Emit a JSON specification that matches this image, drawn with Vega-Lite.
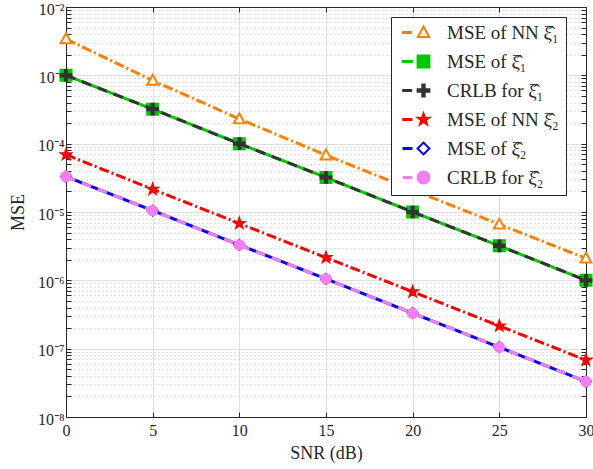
{
  "$schema": "https://vega.github.io/schema/vega-lite/v6.json",
  "width": 520,
  "height": 410,
  "autosize": {"type": "none"},
  "padding": {"left": 66, "top": 7, "right": 7, "bottom": 52},
  "background": "white",
  "config": {
    "view": {"stroke": null},
    "font": "Liberation Serif",
    "axis": {"labelFont": "Liberation Serif", "titleFont": "Liberation Serif", "labelColor": "#262626", "titleColor": "#262626", "titleFontWeight": "normal", "domainColor": "#262626", "tickColor": "#262626", "labelFlush": false, "labelOverlap": false}
  },
  "data": {
    "values": [
      {"snr": 0, "mse": 0.0034, "series": "MSE of NN ξ̂₁"},
      {"snr": 5, "mse": 0.00084, "series": "MSE of NN ξ̂₁"},
      {"snr": 10, "mse": 0.00023, "series": "MSE of NN ξ̂₁"},
      {"snr": 15, "mse": 0.000068, "series": "MSE of NN ξ̂₁"},
      {"snr": 20, "mse": 0.000021, "series": "MSE of NN ξ̂₁"},
      {"snr": 25, "mse": 0.0000066, "series": "MSE of NN ξ̂₁"},
      {"snr": 30, "mse": 0.0000021, "series": "MSE of NN ξ̂₁"},
      {"snr": 0, "mse": 0.001, "series": "MSE of ξ̂₁"},
      {"snr": 5, "mse": 0.00032, "series": "MSE of ξ̂₁"},
      {"snr": 10, "mse": 0.0001, "series": "MSE of ξ̂₁"},
      {"snr": 15, "mse": 0.000032, "series": "MSE of ξ̂₁"},
      {"snr": 20, "mse": 0.00001, "series": "MSE of ξ̂₁"},
      {"snr": 25, "mse": 0.0000032, "series": "MSE of ξ̂₁"},
      {"snr": 30, "mse": 0.000001, "series": "MSE of ξ̂₁"},
      {"snr": 0, "mse": 0.001, "series": "CRLB for ξ̂₁"},
      {"snr": 5, "mse": 0.00032, "series": "CRLB for ξ̂₁"},
      {"snr": 10, "mse": 0.0001, "series": "CRLB for ξ̂₁"},
      {"snr": 15, "mse": 0.000032, "series": "CRLB for ξ̂₁"},
      {"snr": 20, "mse": 0.00001, "series": "CRLB for ξ̂₁"},
      {"snr": 25, "mse": 0.0000032, "series": "CRLB for ξ̂₁"},
      {"snr": 30, "mse": 0.000001, "series": "CRLB for ξ̂₁"},
      {"snr": 0, "mse": 0.000069, "series": "MSE of NN ξ̂₂"},
      {"snr": 5, "mse": 0.0000215, "series": "MSE of NN ξ̂₂"},
      {"snr": 10, "mse": 0.0000068, "series": "MSE of NN ξ̂₂"},
      {"snr": 15, "mse": 0.00000215, "series": "MSE of NN ξ̂₂"},
      {"snr": 20, "mse": 0.00000068, "series": "MSE of NN ξ̂₂"},
      {"snr": 25, "mse": 0.000000215, "series": "MSE of NN ξ̂₂"},
      {"snr": 30, "mse": 0.000000068, "series": "MSE of NN ξ̂₂"},
      {"snr": 0, "mse": 0.000033, "series": "MSE of ξ̂₂"},
      {"snr": 5, "mse": 0.0000105, "series": "MSE of ξ̂₂"},
      {"snr": 10, "mse": 0.0000033, "series": "MSE of ξ̂₂"},
      {"snr": 15, "mse": 0.00000105, "series": "MSE of ξ̂₂"},
      {"snr": 20, "mse": 0.00000033, "series": "MSE of ξ̂₂"},
      {"snr": 25, "mse": 0.000000105, "series": "MSE of ξ̂₂"},
      {"snr": 30, "mse": 0.000000033, "series": "MSE of ξ̂₂"},
      {"snr": 0, "mse": 0.000033, "series": "CRLB for ξ̂₂"},
      {"snr": 5, "mse": 0.0000105, "series": "CRLB for ξ̂₂"},
      {"snr": 10, "mse": 0.0000033, "series": "CRLB for ξ̂₂"},
      {"snr": 15, "mse": 0.00000105, "series": "CRLB for ξ̂₂"},
      {"snr": 20, "mse": 0.00000033, "series": "CRLB for ξ̂₂"},
      {"snr": 25, "mse": 0.000000105, "series": "CRLB for ξ̂₂"},
      {"snr": 30, "mse": 0.000000033, "series": "CRLB for ξ̂₂"}
    ]
  },
  "layer": [
    {
      "mark": {"type": "line", "opacity": 0},
      "encoding": {
        "x": {"field": "snr", "type": "quantitative", "scale": {"domain": [0, 30], "nice": false},
          "axis": {"orient": "bottom", "values": [0, 5, 10, 15, 20, 25, 30], "title": "SNR (dB)", "labelFont": "Liberation Serif", "titleFont": "Liberation Serif", "titleFontSize": 18, "labelFontSize": 16, "labelPadding": 10, "titlePadding": 6, "tickSize": -5, "grid": true, "gridColor": "#dedede", "gridWidth": 1}},
        "y": {"field": "mse", "type": "quantitative", "scale": {"type": "log", "domain": [1e-8, 0.01], "nice": false},
          "axis": {"orient": "left", "title": "MSE", "labelFont": "Liberation Serif", "titleFont": "Liberation Serif", "titleFontSize": 18, "labelFontSize": 16, "titlePadding": 10, "labelPadding": 7, "labelOffset": 2, "tickSize": -5,
            "values": [1e-8, 2e-8, 3e-8, 4e-8, 5e-8, 6e-8, 7e-8, 8e-8, 9e-8, 1e-7, 2e-7, 3e-7, 4e-7, 5e-7, 6e-7, 7e-7, 8e-7, 9e-7, 1e-6, 2e-6, 3e-6, 4e-6, 5e-6, 6e-6, 7e-6, 8e-6, 9e-6, 1e-5, 2e-5, 3e-5, 4e-5, 5e-5, 6e-5, 7e-5, 8e-5, 9e-5, 1e-4, 2e-4, 3e-4, 4e-4, 5e-4, 6e-4, 7e-4, 8e-4, 9e-4, 1e-3, 2e-3, 3e-3, 4e-3, 5e-3, 6e-3, 7e-3, 8e-3, 9e-3, 1e-2],
            "labelExpr": "abs(log(datum.value)/LN10 - round(log(datum.value)/LN10)) < 0.001 ? ('10' + (round(log(datum.value)/LN10) < 0 ? '⁻' : '') + ['⁰','¹','²','³','⁴','⁵','⁶','⁷','⁸','⁹'][abs(round(log(datum.value)/LN10))]) : ''",
            "grid": true,
            "gridColor": {"condition": {"test": "abs(log(datum.value)/LN10 - round(log(datum.value)/LN10)) < 0.001", "value": "#dedede"}, "value": "#c4c4c4"},
            "gridDash": {"condition": {"test": "abs(log(datum.value)/LN10 - round(log(datum.value)/LN10)) < 0.001", "value": []}, "value": [1, 3]}
          }}
      }
    },
    {
      "mark": {"type": "line", "opacity": 0},
      "encoding": {
        "x": {"field": "snr", "type": "quantitative", "axis": {"orient": "top", "values": [0, 5, 10, 15, 20, 25, 30], "labels": false, "title": null, "tickSize": -5, "grid": false}},
        "y": {"field": "mse", "type": "quantitative", "axis": {"orient": "right", "labels": false, "title": null, "tickSize": -5, "grid": false,
          "values": [1e-8, 2e-8, 3e-8, 4e-8, 5e-8, 6e-8, 7e-8, 8e-8, 9e-8, 1e-7, 2e-7, 3e-7, 4e-7, 5e-7, 6e-7, 7e-7, 8e-7, 9e-7, 1e-6, 2e-6, 3e-6, 4e-6, 5e-6, 6e-6, 7e-6, 8e-6, 9e-6, 1e-5, 2e-5, 3e-5, 4e-5, 5e-5, 6e-5, 7e-5, 8e-5, 9e-5, 1e-4, 2e-4, 3e-4, 4e-4, 5e-4, 6e-4, 7e-4, 8e-4, 9e-4, 1e-3, 2e-3, 3e-3, 4e-3, 5e-3, 6e-3, 7e-3, 8e-3, 9e-3, 1e-2]}}
      }
    },
    {
      "transform": [{"filter": {"field": "series", "oneOf": ["MSE of NN ξ̂₁", "MSE of ξ̂₁", "MSE of NN ξ̂₂", "MSE of ξ̂₂"]}}],
      "mark": {"type": "line", "strokeWidth": 3},
      "encoding": {
        "x": {"field": "snr", "type": "quantitative", "axis": null},
        "y": {"field": "mse", "type": "quantitative", "axis": null},
        "stroke": {"field": "series", "type": "nominal",
          "scale": {"domain": ["MSE of NN ξ̂₁", "MSE of ξ̂₁", "CRLB for ξ̂₁", "MSE of NN ξ̂₂", "MSE of ξ̂₂", "CRLB for ξ̂₂"], "range": ["#FF8000", "#00C800", "#333333", "#FF0000", "#0000FF", "#F37EF3"]},
          "legend": {"orient": "none", "legendX": 325, "legendY": 10, "zindex": 1, "title": null, "labelFont": "Liberation Serif", "labelFontSize": 19, "labelColor": "#262626", "padding": 7, "rowPadding": 9, "clipHeight": 17, "labelOffset": 30, "strokeColor": "#262626", "fillColor": "white", "labelLimit": 300, "symbolType": "stroke", "symbolSize": 2116, "symbolStrokeWidth": 3}},
        "strokeDash": {"field": "series", "type": "nominal",
          "scale": {"domain": ["MSE of NN ξ̂₁", "MSE of ξ̂₁", "CRLB for ξ̂₁", "MSE of NN ξ̂₂", "MSE of ξ̂₂", "CRLB for ξ̂₂"], "range": [[10, 3, 2, 3], [1, 0], [10, 7], [10, 3, 2, 3], [1, 0], [10, 7]]}}
      }
    },
    {
      "transform": [{"filter": {"field": "series", "oneOf": ["MSE of NN ξ̂₁", "MSE of ξ̂₁", "MSE of NN ξ̂₂", "MSE of ξ̂₂"]}}],
      "mark": {"type": "point", "strokeWidth": 2, "opacity": 1, "filled": false},
      "encoding": {
        "x": {"field": "snr", "type": "quantitative", "axis": null},
        "y": {"field": "mse", "type": "quantitative", "axis": null},
        "color": {"field": "series", "type": "nominal",
          "scale": {"domain": ["MSE of NN ξ̂₁", "MSE of ξ̂₁", "CRLB for ξ̂₁", "MSE of NN ξ̂₂", "MSE of ξ̂₂", "CRLB for ξ̂₂", "zz"], "range": ["#FF8000", "#00C800", "#333333", "#FF0000", "#0000FF", "#F37EF3", "transparent"]},
          "legend": {"orient": "none", "legendX": 341, "legendY": 10, "zindex": 2, "title": null, "labelExpr": "''", "labelFontSize": 19, "padding": 7, "rowPadding": 9, "clipHeight": 17, "labelOffset": 0, "strokeColor": null, "fillColor": null, "symbolSize": 140, "symbolStrokeWidth": 2, "symbolOpacity": 1}},
        "fill": {"field": "series", "type": "nominal",
          "scale": {"domain": ["MSE of NN ξ̂₁", "MSE of ξ̂₁", "CRLB for ξ̂₁", "MSE of NN ξ̂₂", "MSE of ξ̂₂", "CRLB for ξ̂₂", "zz"], "range": ["white", "#00C800", "#333333", "#FF0000", "white", "#F37EF3", "transparent"]}},
        "shape": {"field": "series", "type": "nominal",
          "scale": {"domain": ["MSE of NN ξ̂₁", "MSE of ξ̂₁", "CRLB for ξ̂₁", "MSE of NN ξ̂₂", "MSE of ξ̂₂", "CRLB for ξ̂₂", "zz"], "range": ["M0,-1L0.95,0.75L-0.95,0.75Z", "square", "M-1,-0.2H-0.2V-1H0.2V-0.2H1V0.2H0.2V1H-0.2V0.2H-1Z", "M0,-1L0.235,-0.324L0.951,-0.309L0.380,0.124L0.588,0.809L0,0.4L-0.588,0.809L-0.380,0.124L-0.951,-0.309L-0.235,-0.324Z", "diamond", "circle", "circle"]}},
        "size": {"field": "series", "type": "nominal", "legend": null,
          "scale": {"domain": ["MSE of NN ξ̂₁", "MSE of ξ̂₁", "CRLB for ξ̂₁", "MSE of NN ξ̂₂", "MSE of ξ̂₂", "CRLB for ξ̂₂"], "range": [130, 90, 110, 160, 130, 80]}}
      }
    },
    {
      "transform": [{"filter": {"field": "series", "oneOf": ["CRLB for ξ̂₁", "CRLB for ξ̂₂"]}}],
      "mark": {"type": "line", "strokeWidth": 3},
      "encoding": {
        "x": {"field": "snr", "type": "quantitative", "axis": null},
        "y": {"field": "mse", "type": "quantitative", "axis": null},
        "stroke": {"field": "series", "type": "nominal"},
        "strokeDash": {"field": "series", "type": "nominal"}
      }
    },
    {
      "transform": [{"filter": {"field": "series", "oneOf": ["CRLB for ξ̂₁", "CRLB for ξ̂₂"]}}],
      "mark": {"type": "point", "strokeWidth": 2, "opacity": 1, "filled": false},
      "encoding": {
        "x": {"field": "snr", "type": "quantitative", "axis": null},
        "y": {"field": "mse", "type": "quantitative", "axis": null},
        "color": {"field": "series", "type": "nominal"},
        "fill": {"field": "series", "type": "nominal"},
        "shape": {"field": "series", "type": "nominal"},
        "size": {"field": "series", "type": "nominal", "legend": null}
      }
    }
  ],
  "resolve": {"axis": {"x": "independent", "y": "independent"}}
}
